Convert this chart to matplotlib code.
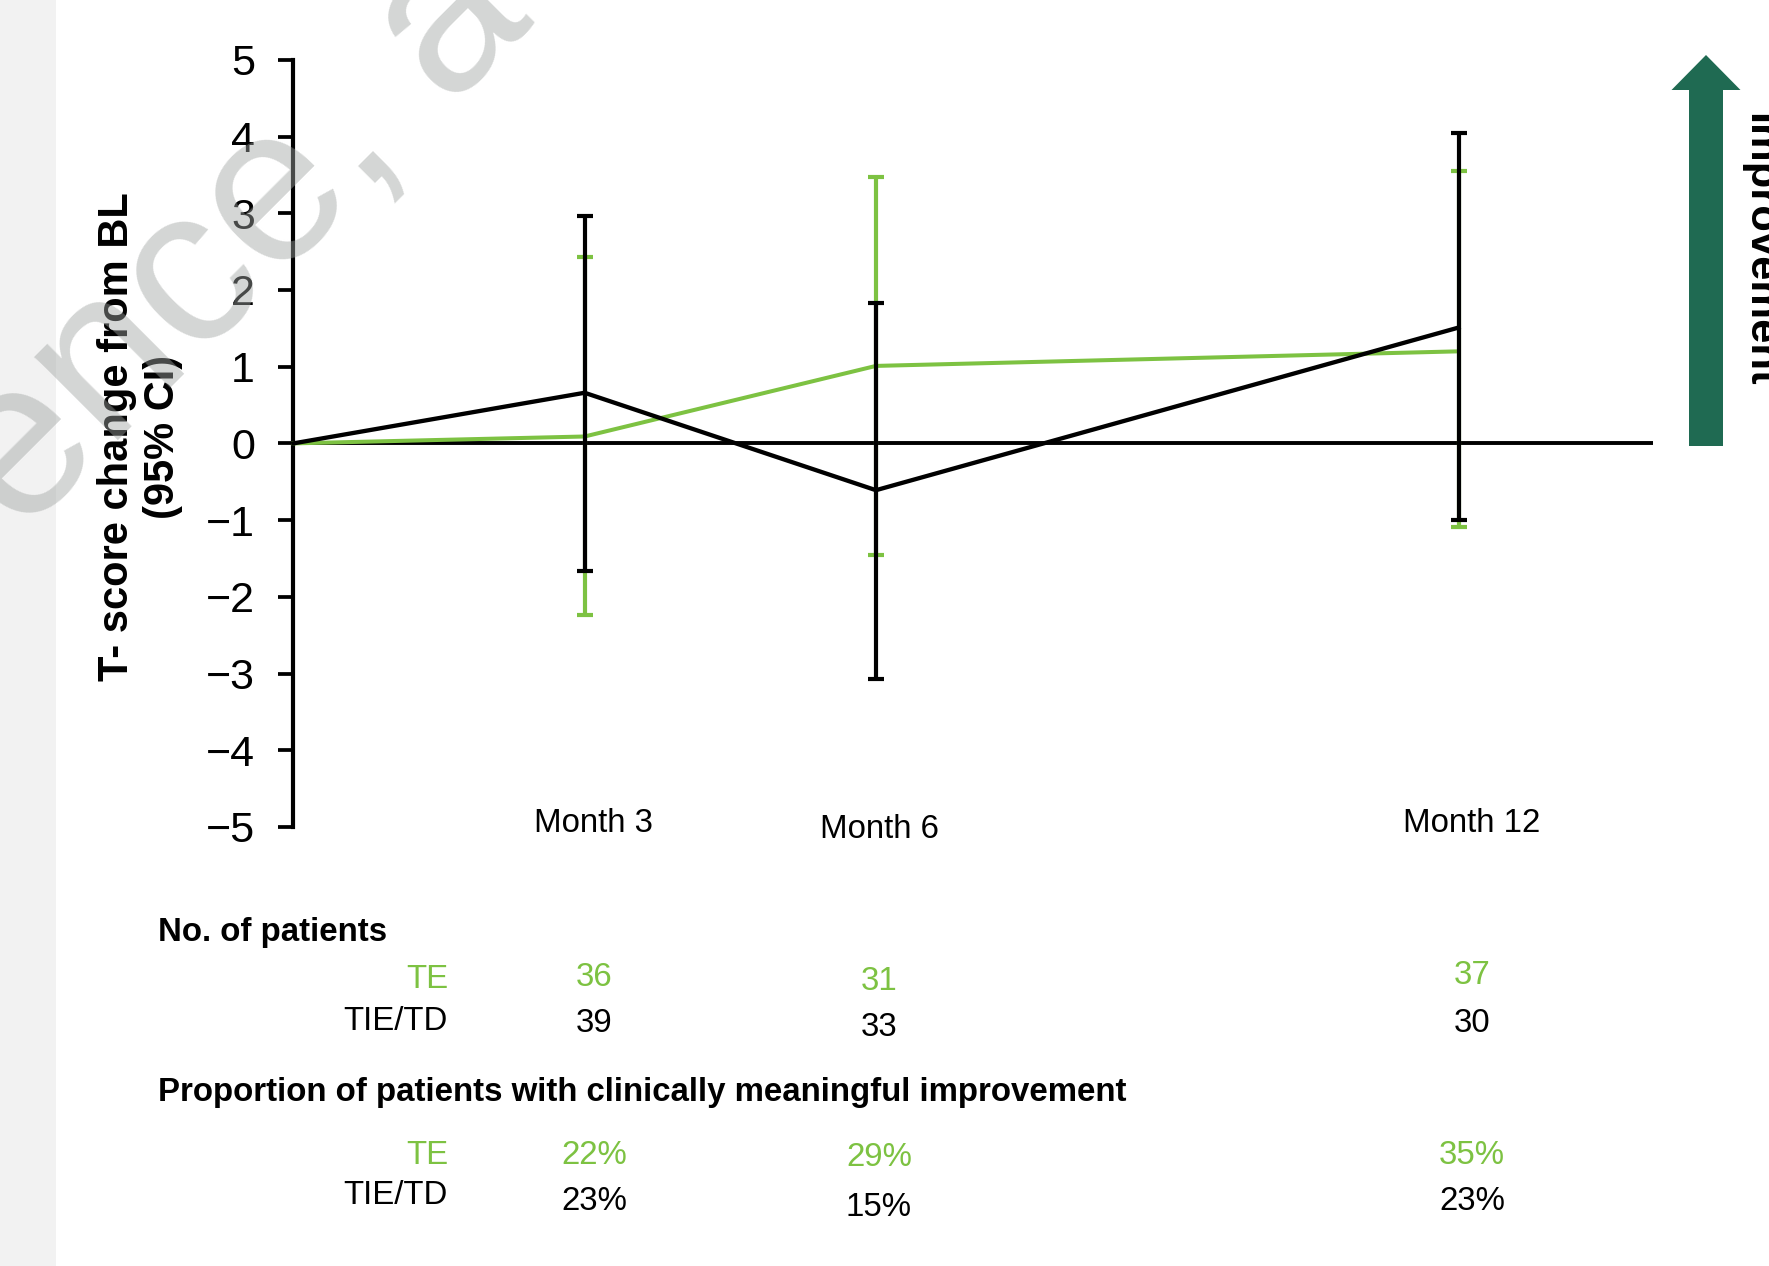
import numpy as np
import matplotlib
matplotlib.use("Agg")
import matplotlib.pyplot as plt
from matplotlib.patches import Rectangle, FancyArrow

plt.rcParams["font.family"] = ["Liberation Sans", "DejaVu Sans"]

# ---- data -------------------------------------------------------------
months = [0, 3, 6, 12]
month_labels = ["Month 3", "Month 6", "Month 12"]

te_mean = [0.0, 0.09, 1.01, 1.20]
te_lo = [np.nan, -2.24, -1.46, -1.09]
te_hi = [np.nan, 2.43, 3.47, 3.55]

tie_mean = [0.0, 0.66, -0.61, 1.51]
tie_lo = [np.nan, -1.66, -3.07, -1.00]
tie_hi = [np.nan, 2.97, 1.83, 4.04]

groups = ["TE", "TIE/TD"]
n_te = ["36", "31", "37"]
n_tie = ["39", "33", "30"]
pct_te = ["22%", "29%", "35%"]
pct_tie = ["23%", "15%", "23%"]

yticks = [-5, -4, -3, -2, -1, 0, 1, 2, 3, 4, 5]

# ---- style ------------------------------------------------------------
GREEN = "#7dc242"
BLACK = "#000000"
ARROW = "#1f6a52"
W, H = 1769, 1266
FS = 23.8

fig = plt.figure(figsize=(W / 100, H / 100), dpi=100)

# background layer (pixel coordinates)
back = fig.add_axes([0, 0, 1, 1], zorder=0)
back.set_xlim(0, W)
back.set_ylim(H, 0)
back.axis("off")
back.add_patch(Rectangle((0, 0), 56, H, color="#f2f2f2", lw=0))

# main chart
ax = fig.add_axes([293.3 / W, 439 / H, (1652.8 - 293.3) / W, (1206.2 - 439) / H], zorder=2)
ax.patch.set_visible(False)
ax.set_xlim(0, 14)
ax.set_ylim(-5, 5)
for s in ["top", "right", "bottom"]:
    ax.spines[s].set_visible(False)
ax.spines["left"].set_linewidth(3.0)
ax.set_yticks(yticks)
ax.set_xticks([])
ax.tick_params(axis="y", direction="out", length=10.5, width=2.7, pad=17, labelsize=31)
ax.axhline(0, color=BLACK, lw=2.8, zorder=1)


def draw_series(mean, lo, hi, color, lw, z):
    m = np.array(mean)
    yerr = np.vstack([m - np.array(lo), np.array(hi) - m])
    ax.errorbar(months, m, yerr=yerr, color=color, lw=lw, elinewidth=3.0,
                capsize=5.5, capthick=3.0, zorder=z, clip_on=False)


draw_series(te_mean, te_lo, te_hi, GREEN, 2.9, 3)
draw_series(tie_mean, tie_lo, tie_hi, BLACK, 3.1, 4)

# foreground layer (pixel coordinates) for labels and annotations
fg = fig.add_axes([0, 0, 1, 1], zorder=5)
fg.patch.set_visible(False)
fg.set_xlim(0, W)
fg.set_ylim(H, 0)
fg.axis("off")

fg.text(140, 437, "T- score change from BL\n(95% CI)", rotation=90, ha="center",
        va="center", fontsize=30, fontweight="bold", linespacing=1.18)

col_x = [594, 879, 1472]
month_y = [824, 830, 824]
for x, y, lab in zip(col_x, month_y, month_labels):
    fg.text(x, y, lab, ha="center", va="center", fontsize=FS)

# table of counts and proportions
fg.text(158, 933, "No. of patients", ha="left", va="center", fontsize=FS, fontweight="bold")
fg.text(448, 980, groups[0], ha="right", va="center", fontsize=FS, color=GREEN)
fg.text(448, 1021, groups[1], ha="right", va="center", fontsize=FS, color=BLACK)
for x, y, v in zip(col_x, [978, 981, 975], n_te):
    fg.text(x, y, v, ha="center", va="center", fontsize=FS, color=GREEN)
for x, y, v in zip(col_x, [1024, 1028, 1024], n_tie):
    fg.text(x, y, v, ha="center", va="center", fontsize=FS, color=BLACK)

fg.text(158, 1093, "Proportion of patients with clinically meaningful improvement",
        ha="left", va="center", fontsize=FS, fontweight="bold")
fg.text(448, 1155, groups[0], ha="right", va="center", fontsize=FS, color=GREEN)
fg.text(448, 1195, groups[1], ha="right", va="center", fontsize=FS, color=BLACK)
for x, y, v in zip(col_x, [1155, 1158, 1156], pct_te):
    fg.text(x, y, v, ha="center", va="center", fontsize=FS, color=GREEN)
for x, y, v in zip(col_x, [1201, 1207, 1202], pct_tie):
    fg.text(x, y, v, ha="center", va="center", fontsize=FS, color=BLACK)

# improvement arrow
fg.add_patch(FancyArrow(1706, 446, 0, -391, width=34, head_width=69, head_length=35,
                        length_includes_head=True, color=ARROW, lw=0))
fg.text(1748, 113, "Improvement", rotation=-90, rotation_mode="anchor", ha="left",
        va="baseline", fontsize=31.3, fontweight="bold")

# watermark
fg.text(20, 538, "ence, a", rotation=45, rotation_mode="anchor", ha="left",
        va="baseline", fontsize=160, color="#a0a4a2", alpha=0.45, zorder=10)

fig.savefig("out.png", dpi=100)
